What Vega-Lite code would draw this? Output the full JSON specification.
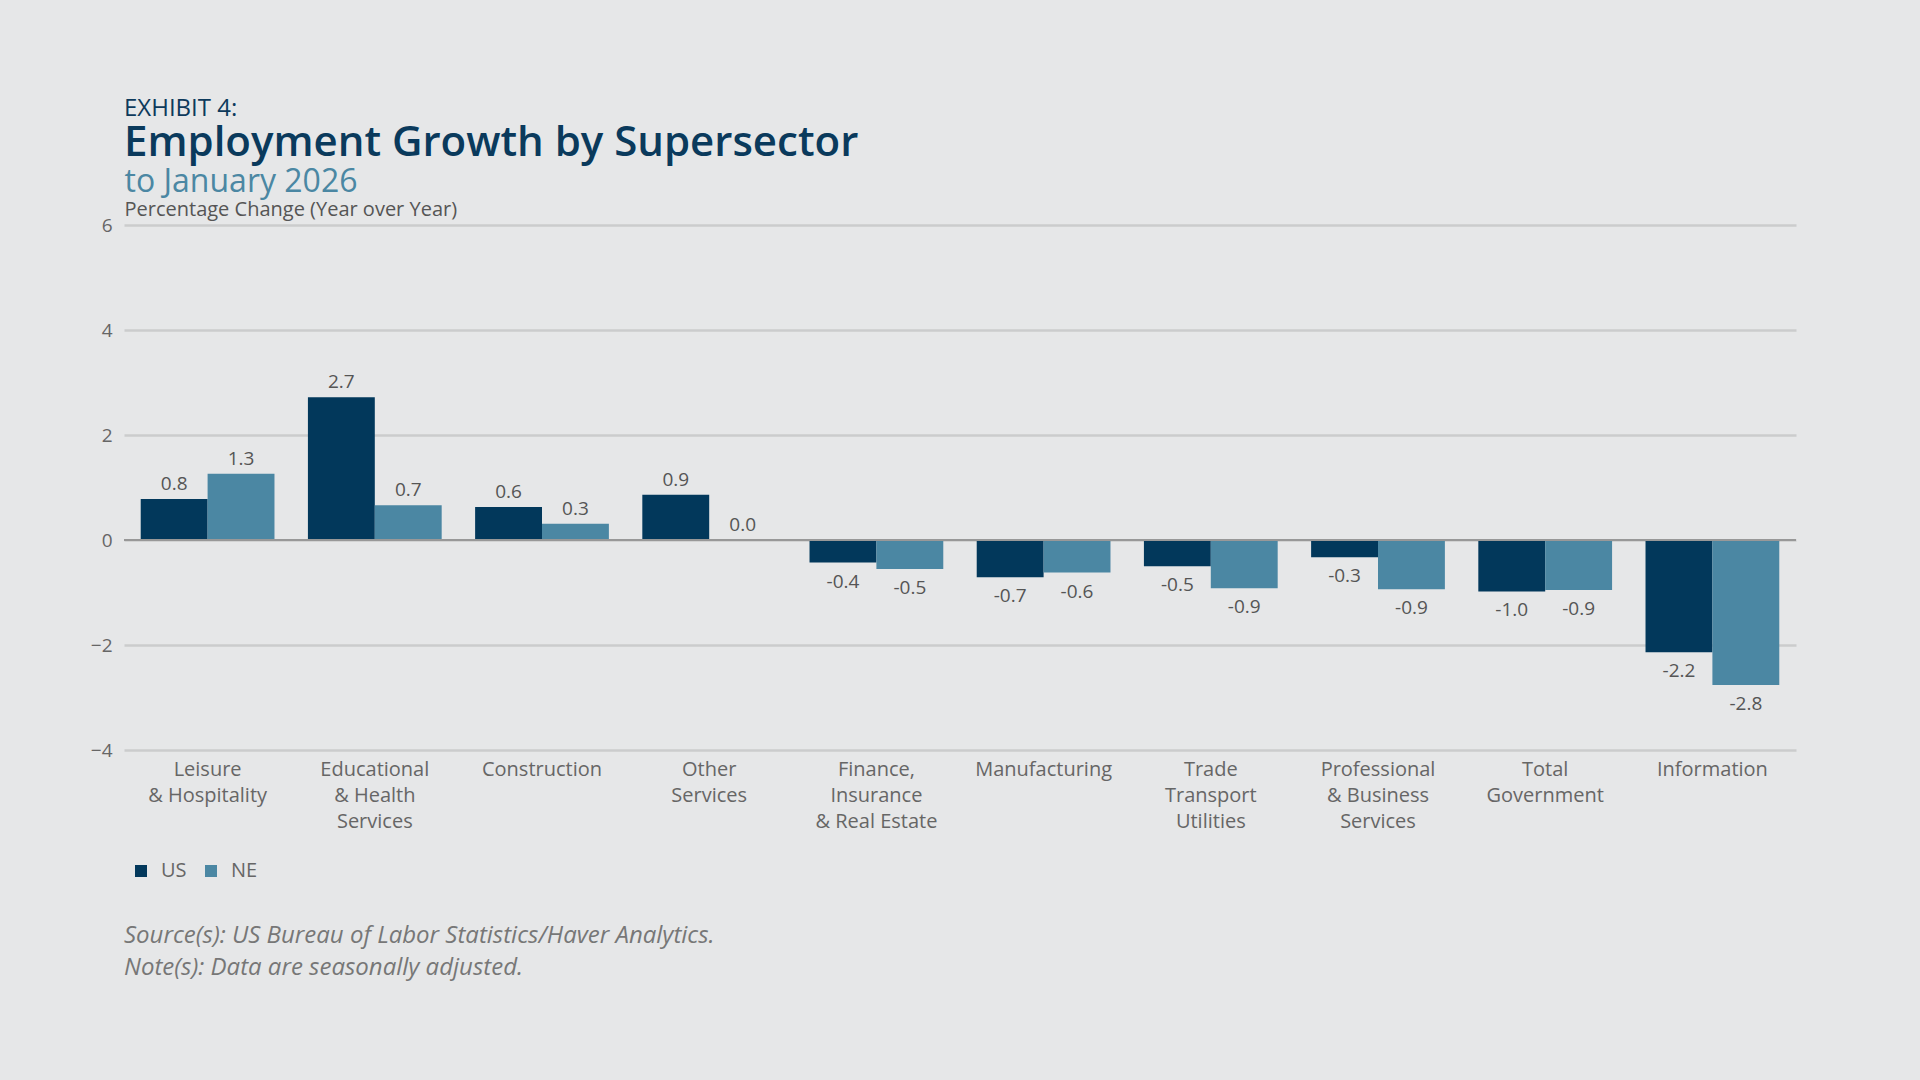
{
  "$schema": "https://vega.github.io/schema/vega-lite/v6.json",
  "width": 1672,
  "height": 525,
  "padding": {"left": 90, "top": 97, "right": 124, "bottom": 102},
  "background": "#e6e7e8",
  "config": {"font": "Open Sans", "view": {"stroke": null}},
  "title": {
    "text": "EXHIBIT 4:",
    "subtitle": "Employment Growth by Supersector",
    "anchor": "start",
    "frame": "group",
    "fontSize": 24,
    "fontWeight": "normal",
    "color": "#0d3a5c",
    "subtitleFontSize": 42,
    "subtitleFontWeight": 600,
    "subtitleColor": "#0a3a5c",
    "subtitlePadding": 2,
    "offset": 1
  },
  "data": {
    "values": [
      {"sector": "Leisure|& Hospitality", "series": "US", "value": 0.78, "label": "0.8"},
      {"sector": "Leisure|& Hospitality", "series": "NE", "value": 1.26, "label": "1.3"},
      {"sector": "Educational|& Health|Services", "series": "US", "value": 2.72, "label": "2.7"},
      {"sector": "Educational|& Health|Services", "series": "NE", "value": 0.66, "label": "0.7"},
      {"sector": "Construction", "series": "US", "value": 0.63, "label": "0.6"},
      {"sector": "Construction", "series": "NE", "value": 0.31, "label": "0.3"},
      {"sector": "Other|Services", "series": "US", "value": 0.86, "label": "0.9"},
      {"sector": "Other|Services", "series": "NE", "value": 0.0, "label": "0.0"},
      {"sector": "Finance,|Insurance|& Real Estate", "series": "US", "value": -0.43, "label": "-0.4"},
      {"sector": "Finance,|Insurance|& Real Estate", "series": "NE", "value": -0.55, "label": "-0.5"},
      {"sector": "Manufacturing", "series": "US", "value": -0.71, "label": "-0.7"},
      {"sector": "Manufacturing", "series": "NE", "value": -0.62, "label": "-0.6"},
      {"sector": "Trade|Transport|Utilities", "series": "US", "value": -0.5, "label": "-0.5"},
      {"sector": "Trade|Transport|Utilities", "series": "NE", "value": -0.92, "label": "-0.9"},
      {"sector": "Professional|& Business|Services", "series": "US", "value": -0.33, "label": "-0.3"},
      {"sector": "Professional|& Business|Services", "series": "NE", "value": -0.94, "label": "-0.9"},
      {"sector": "Total|Government", "series": "US", "value": -0.98, "label": "-1.0"},
      {"sector": "Total|Government", "series": "NE", "value": -0.95, "label": "-0.9"},
      {"sector": "Information", "series": "US", "value": -2.14, "label": "-2.2"},
      {"sector": "Information", "series": "NE", "value": -2.76, "label": "-2.8"}
    ]
  },
  "resolve": {"scale": {"y": "independent"}},
  "layer": [
    {
      "layer": [
        {
          "mark": {"type": "bar"},
          "encoding": {
            "x": {
              "field": "sector",
              "type": "nominal",
              "sort": null,
              "scale": {"paddingInner": 0.2, "paddingOuter": 0.1},
              "axis": {
                "title": null,
                "labelExpr": "split(datum.label, '|')",
                "labelAngle": 0,
                "labelFontSize": 20,
                "labelColor": "#666666",
                "labelLineHeight": 26,
                "labelBaseline": "top",
                "labelPadding": 9,
                "ticks": false,
                "domain": false
              }
            },
            "xOffset": {"field": "series", "type": "nominal", "sort": ["US", "NE"]},
            "y": {
              "field": "value",
              "type": "quantitative",
              "scale": {"domain": [-4, 6], "nice": false},
              "axis": {
                "values": [-4, -2, 0, 2, 4, 6],
                "title": "Percentage Change (Year over Year)",
                "titleAngle": 0,
                "titleAlign": "left",
                "titleX": 0,
                "titleY": -10,
                "titleBaseline": "alphabetic",
                "titleFontSize": 20,
                "titleFontWeight": "normal",
                "titleColor": "#555555",
                "labelFontSize": 19,
                "labelColor": "#666666",
                "labelPadding": 12,
                "ticks": false,
                "domain": false,
                "gridColor": "#cbcccd",
                "gridWidth": 2.5
              }
            },
            "color": {
              "field": "series",
              "type": "nominal",
              "sort": ["US", "NE"],
              "scale": {"domain": ["US", "NE"], "range": ["#02385b", "#4b87a3"]},
              "legend": {
                "orient": "bottom",
                "direction": "horizontal",
                "title": ["Source(s): US Bureau of Labor Statistics/Haver Analytics.", "Note(s): Data are seasonally adjusted."],
                "titleOrient": "bottom",
                "titleAlign": "left",
                "titleFontStyle": "italic",
                "titleFontWeight": "normal",
                "titleFontSize": 24,
                "titleColor": "#777777",
                "titleLineHeight": 32,
                "titlePadding": 43,
                "titleLimit": 1200,
                "symbolType": "square",
                "symbolSize": 144,
                "symbolStrokeWidth": 0,
                "symbolOffset": 7,
                "labelOffset": 10,
                "labelFontSize": 20,
                "labelColor": "#666666",
                "columnPadding": 7,
                "offset": 30
              }
            }
          }
        },
        {
          "mark": {"type": "rule", "color": "#999999", "strokeWidth": 1.5},
          "encoding": {"y": {"datum": 0}}
        }
      ]
    },
    {
      "mark": {
        "type": "text",
        "fontSize": 19,
        "color": "#555555",
        "baseline": "alphabetic",
        "dy": {"expr": "datum.value < 0 ? 25 : -9"}
      },
      "encoding": {
        "x": {"field": "sector", "type": "nominal", "sort": null},
        "xOffset": {"field": "series", "type": "nominal", "sort": ["US", "NE"]},
        "y": {
          "field": "value",
          "type": "quantitative",
          "scale": {"domain": [-4, 6], "nice": false},
          "axis": {
            "orient": "right",
            "labels": false,
            "ticks": false,
            "domain": false,
            "grid": false,
            "title": "to January 2026",
            "titleAngle": 0,
            "titleAlign": "left",
            "titleX": -1672,
            "titleY": -34,
            "titleBaseline": "alphabetic",
            "titleFontSize": 32,
            "titleFontWeight": "normal",
            "titleColor": "#4b87a3"
          }
        },
        "text": {"field": "label"}
      }
    }
  ]
}
